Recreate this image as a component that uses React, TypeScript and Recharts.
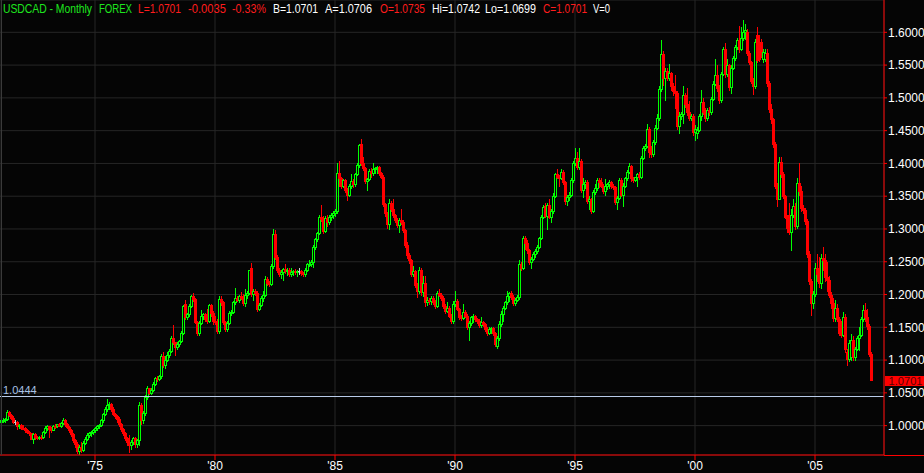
import { ComposedChart, Bar, XAxis, YAxis, CartesianGrid, ReferenceLine } from 'recharts';

// monthly USDCAD candles, first bar = Feb 1971, last = May 2007
const firstYear = 1971;
const firstMonth = 2;

const open = [
  1.006, 1.008, 1.009, 1.010, 1.021, 1.016, 1.012, 1.005, 1.005, 0.999, 1.001,
  0.997, 0.996, 0.993, 0.990, 0.988, 0.980, 0.987, 0.982, 0.981, 0.983, 0.982, 0.991,
  0.997, 0.999, 0.995, 0.994, 1.000, 0.999, 1.002, 1.000, 1.004, 1.009, 1.002, 0.998,
  0.993, 0.987, 0.978, 0.972, 0.962, 0.968, 0.963, 0.974, 0.980, 0.985, 0.988, 0.990,
  0.993, 0.996, 0.999, 1.001, 1.008, 1.018, 1.025, 1.031, 1.033, 1.026, 1.018, 1.014,
  1.010, 1.002, 0.995, 0.988, 0.981, 0.975, 0.971, 0.975, 0.981, 0.972, 0.978, 1.032,
  1.008, 1.019, 1.044, 1.057, 1.050, 1.055, 1.064, 1.072, 1.071, 1.075, 1.106, 1.093,
  1.100, 1.108, 1.114, 1.134, 1.127, 1.120, 1.124, 1.129, 1.142, 1.185, 1.166, 1.170,
  1.183, 1.198, 1.193, 1.158, 1.141, 1.157, 1.168, 1.170, 1.163, 1.160, 1.184, 1.172,
  1.160, 1.158, 1.144, 1.193, 1.188, 1.158, 1.147, 1.157, 1.172, 1.174, 1.188, 1.195,
  1.192, 1.198, 1.195, 1.187, 1.199, 1.203, 1.240, 1.201, 1.206, 1.203, 1.178, 1.184,
  1.195, 1.200, 1.224, 1.218, 1.216, 1.243, 1.292, 1.258, 1.238, 1.232, 1.234, 1.239,
  1.236, 1.238, 1.231, 1.234, 1.236, 1.234, 1.236, 1.236, 1.233, 1.231, 1.238, 1.246,
  1.247, 1.250, 1.272, 1.284, 1.294, 1.318, 1.315, 1.297, 1.316, 1.310, 1.318, 1.322,
  1.325, 1.328, 1.386, 1.378, 1.366, 1.374, 1.359, 1.352, 1.365, 1.373, 1.368, 1.384,
  1.397, 1.430, 1.400, 1.393, 1.373, 1.376, 1.389, 1.385, 1.391, 1.393, 1.394, 1.385,
  1.380, 1.338, 1.324, 1.308, 1.340, 1.330, 1.321, 1.313, 1.306, 1.313, 1.311, 1.299,
  1.276, 1.260, 1.252, 1.231, 1.236, 1.215, 1.205, 1.238, 1.204, 1.218, 1.188, 1.192,
  1.190, 1.195, 1.189, 1.183, 1.203, 1.200, 1.195, 1.183, 1.175, 1.180, 1.168, 1.159,
  1.185, 1.190, 1.178, 1.166, 1.164, 1.173, 1.168, 1.150, 1.156, 1.165, 1.167, 1.162,
  1.160, 1.153, 1.158, 1.155, 1.148, 1.142, 1.147, 1.149, 1.141, 1.121, 1.133, 1.155,
  1.171, 1.180, 1.188, 1.197, 1.202, 1.196, 1.187, 1.192, 1.196, 1.247, 1.241, 1.286,
  1.279, 1.268, 1.249, 1.254, 1.262, 1.266, 1.273, 1.286, 1.318, 1.335, 1.320, 1.336,
  1.318, 1.327, 1.351, 1.384, 1.380, 1.378, 1.387, 1.371, 1.342, 1.349, 1.352, 1.374,
  1.401, 1.408, 1.395, 1.404, 1.360, 1.368, 1.372, 1.343, 1.346, 1.328, 1.357, 1.363,
  1.374, 1.371, 1.366, 1.358, 1.366, 1.368, 1.371, 1.366, 1.364, 1.341, 1.348, 1.375,
  1.352, 1.366, 1.377, 1.387, 1.396, 1.377, 1.375, 1.379, 1.384, 1.379, 1.409, 1.423,
  1.427, 1.452, 1.418, 1.414, 1.432, 1.454, 1.469, 1.513, 1.567, 1.531, 1.541, 1.531,
  1.538, 1.518, 1.510, 1.507, 1.457, 1.472, 1.475, 1.505, 1.490, 1.478, 1.470, 1.473,
  1.448, 1.446, 1.451, 1.473, 1.494, 1.479, 1.469, 1.482, 1.478, 1.499, 1.521, 1.535,
  1.515, 1.496, 1.537, 1.575, 1.536, 1.550, 1.516, 1.546, 1.561, 1.577, 1.588, 1.575,
  1.592, 1.601, 1.600, 1.568, 1.555, 1.526, 1.518, 1.596, 1.585, 1.585, 1.560, 1.560,
  1.568, 1.522, 1.483, 1.468, 1.430, 1.366, 1.346, 1.402, 1.384, 1.350, 1.319, 1.322,
  1.296, 1.322, 1.335, 1.305, 1.370, 1.358, 1.332, 1.329, 1.312, 1.262, 1.220, 1.187,
  1.201, 1.240, 1.232, 1.218, 1.256, 1.252, 1.226, 1.222, 1.200, 1.187, 1.164, 1.180,
  1.163, 1.141, 1.139, 1.166, 1.112, 1.101, 1.105, 1.130, 1.104, 1.117, 1.134, 1.139,
  1.163, 1.176, 1.165, 1.152, 1.109,
];

const high = [
  1.010, 1.011, 1.012, 1.024, 1.022, 1.018, 1.014, 1.008, 1.007, 1.003, 1.002,
  1.001, 0.998, 0.995, 0.992, 0.989, 0.989, 0.988, 0.984, 0.984, 0.985, 0.992, 0.999,
  1.001, 1.000, 0.998, 1.001, 1.002, 1.003, 1.004, 1.005, 1.011, 1.010, 1.004, 1.000,
  0.995, 0.988, 0.980, 0.975, 0.970, 0.975, 0.976, 0.982, 0.988, 0.990, 0.992, 0.995,
  0.998, 1.001, 1.003, 1.010, 1.020, 1.028, 1.040, 1.036, 1.034, 1.028, 1.020, 1.016,
  1.013, 1.004, 0.997, 0.990, 0.983, 0.985, 0.978, 0.983, 0.982, 0.980, 1.036, 1.034,
  1.022, 1.046, 1.060, 1.058, 1.057, 1.066, 1.074, 1.076, 1.078, 1.110, 1.112, 1.106,
  1.112, 1.117, 1.136, 1.153, 1.128, 1.127, 1.131, 1.145, 1.184, 1.192, 1.172, 1.186,
  1.200, 1.203, 1.195, 1.160, 1.160, 1.176, 1.172, 1.172, 1.178, 1.186, 1.186, 1.175,
  1.168, 1.162, 1.198, 1.197, 1.190, 1.160, 1.160, 1.175, 1.176, 1.190, 1.210, 1.198,
  1.200, 1.204, 1.201, 1.208, 1.206, 1.238, 1.248, 1.208, 1.208, 1.205, 1.187, 1.197,
  1.205, 1.228, 1.226, 1.221, 1.246, 1.300, 1.298, 1.260, 1.241, 1.237, 1.241, 1.247,
  1.240, 1.240, 1.240, 1.238, 1.239, 1.238, 1.240, 1.238, 1.235, 1.240, 1.248, 1.252,
  1.252, 1.276, 1.286, 1.296, 1.322, 1.336, 1.320, 1.320, 1.322, 1.322, 1.325, 1.327,
  1.330, 1.400, 1.404, 1.380, 1.376, 1.376, 1.363, 1.368, 1.384, 1.376, 1.386, 1.400,
  1.430, 1.437, 1.410, 1.395, 1.378, 1.392, 1.393, 1.400, 1.395, 1.396, 1.396, 1.387,
  1.382, 1.340, 1.326, 1.345, 1.342, 1.345, 1.323, 1.316, 1.316, 1.331, 1.314, 1.300,
  1.280, 1.263, 1.254, 1.244, 1.238, 1.218, 1.242, 1.240, 1.228, 1.228, 1.196, 1.195,
  1.198, 1.197, 1.191, 1.205, 1.208, 1.202, 1.197, 1.185, 1.188, 1.182, 1.170, 1.190,
  1.205, 1.193, 1.180, 1.169, 1.185, 1.176, 1.170, 1.160, 1.167, 1.170, 1.169, 1.164,
  1.163, 1.165, 1.160, 1.157, 1.150, 1.150, 1.150, 1.151, 1.143, 1.136, 1.160, 1.175,
  1.182, 1.190, 1.205, 1.204, 1.206, 1.199, 1.195, 1.199, 1.252, 1.250, 1.290, 1.290,
  1.283, 1.270, 1.257, 1.265, 1.270, 1.276, 1.288, 1.322, 1.336, 1.340, 1.340, 1.345,
  1.330, 1.355, 1.386, 1.392, 1.383, 1.391, 1.390, 1.373, 1.352, 1.356, 1.377, 1.404,
  1.423, 1.418, 1.423, 1.407, 1.378, 1.375, 1.375, 1.351, 1.348, 1.360, 1.368, 1.378,
  1.378, 1.377, 1.368, 1.376, 1.370, 1.374, 1.373, 1.369, 1.366, 1.350, 1.378, 1.378,
  1.370, 1.380, 1.390, 1.400, 1.398, 1.380, 1.380, 1.386, 1.387, 1.412, 1.426, 1.430,
  1.460, 1.456, 1.426, 1.436, 1.458, 1.475, 1.518, 1.588, 1.572, 1.545, 1.546, 1.552,
  1.540, 1.522, 1.535, 1.510, 1.478, 1.478, 1.518, 1.508, 1.515, 1.495, 1.476, 1.476,
  1.458, 1.456, 1.476, 1.512, 1.500, 1.484, 1.485, 1.486, 1.502, 1.525, 1.560, 1.550,
  1.520, 1.540, 1.578, 1.583, 1.560, 1.552, 1.550, 1.564, 1.580, 1.592, 1.610, 1.608,
  1.619, 1.612, 1.605, 1.572, 1.557, 1.530, 1.590, 1.608, 1.596, 1.590, 1.575, 1.574,
  1.575, 1.525, 1.490, 1.470, 1.432, 1.370, 1.410, 1.410, 1.387, 1.352, 1.322, 1.340,
  1.330, 1.345, 1.340, 1.378, 1.401, 1.365, 1.336, 1.332, 1.315, 1.266, 1.224, 1.205,
  1.248, 1.262, 1.258, 1.262, 1.273, 1.262, 1.250, 1.228, 1.204, 1.195, 1.192, 1.186,
  1.166, 1.160, 1.174, 1.170, 1.117, 1.130, 1.140, 1.136, 1.120, 1.137, 1.150, 1.166,
  1.184, 1.187, 1.178, 1.155, 1.112,
];

const low = [
  1.004, 1.006, 1.006, 1.008, 1.014, 1.010, 1.004, 1.003, 0.995, 0.996, 0.995,
  0.995, 0.991, 0.988, 0.986, 0.979, 0.973, 0.980, 0.979, 0.979, 0.980, 0.981, 0.989,
  0.994, 0.983, 0.991, 0.993, 0.997, 0.998, 0.999, 0.998, 1.002, 1.000, 0.996, 0.990,
  0.984, 0.975, 0.968, 0.958, 0.957, 0.960, 0.962, 0.972, 0.978, 0.982, 0.984, 0.987,
  0.990, 0.993, 0.996, 0.999, 1.006, 1.016, 1.023, 1.026, 1.022, 1.016, 1.012, 1.006,
  1.000, 0.992, 0.985, 0.978, 0.970, 0.960, 0.965, 0.972, 0.968, 0.967, 0.970, 1.003,
  1.004, 1.016, 1.041, 1.048, 1.048, 1.053, 1.062, 1.068, 1.069, 1.073, 1.090, 1.088,
  1.098, 1.105, 1.112, 1.124, 1.108, 1.117, 1.121, 1.127, 1.140, 1.162, 1.163, 1.168,
  1.181, 1.190, 1.156, 1.138, 1.139, 1.155, 1.163, 1.160, 1.157, 1.158, 1.168, 1.155,
  1.155, 1.141, 1.142, 1.184, 1.155, 1.144, 1.145, 1.155, 1.169, 1.172, 1.186, 1.190,
  1.188, 1.193, 1.184, 1.182, 1.195, 1.201, 1.198, 1.192, 1.200, 1.175, 1.176, 1.182,
  1.190, 1.198, 1.215, 1.213, 1.214, 1.240, 1.254, 1.234, 1.228, 1.225, 1.222, 1.233,
  1.230, 1.228, 1.228, 1.230, 1.232, 1.229, 1.232, 1.230, 1.228, 1.229, 1.236, 1.244,
  1.243, 1.242, 1.270, 1.282, 1.292, 1.312, 1.294, 1.295, 1.305, 1.307, 1.314, 1.316,
  1.320, 1.325, 1.365, 1.363, 1.364, 1.357, 1.344, 1.350, 1.363, 1.364, 1.366, 1.382,
  1.395, 1.398, 1.390, 1.370, 1.360, 1.374, 1.380, 1.383, 1.386, 1.386, 1.382, 1.378,
  1.335, 1.320, 1.302, 1.300, 1.327, 1.318, 1.310, 1.303, 1.295, 1.308, 1.296, 1.273,
  1.256, 1.248, 1.229, 1.229, 1.212, 1.196, 1.203, 1.200, 1.197, 1.183, 1.184, 1.186,
  1.186, 1.186, 1.180, 1.181, 1.197, 1.192, 1.180, 1.172, 1.173, 1.165, 1.156, 1.157,
  1.182, 1.176, 1.163, 1.161, 1.162, 1.166, 1.147, 1.131, 1.153, 1.158, 1.160, 1.156,
  1.150, 1.151, 1.152, 1.145, 1.139, 1.140, 1.142, 1.139, 1.122, 1.118, 1.130, 1.152,
  1.160, 1.178, 1.186, 1.190, 1.193, 1.184, 1.184, 1.190, 1.193, 1.238, 1.239, 1.270,
  1.264, 1.246, 1.240, 1.252, 1.258, 1.264, 1.271, 1.284, 1.316, 1.318, 1.300, 1.316,
  1.310, 1.325, 1.349, 1.378, 1.366, 1.376, 1.368, 1.338, 1.336, 1.344, 1.350, 1.372,
  1.398, 1.392, 1.392, 1.356, 1.349, 1.362, 1.340, 1.330, 1.325, 1.326, 1.354, 1.360,
  1.364, 1.364, 1.355, 1.352, 1.361, 1.362, 1.362, 1.361, 1.338, 1.331, 1.345, 1.350,
  1.335, 1.364, 1.375, 1.385, 1.373, 1.372, 1.373, 1.366, 1.376, 1.377, 1.406, 1.420,
  1.425, 1.410, 1.410, 1.412, 1.430, 1.452, 1.466, 1.510, 1.520, 1.497, 1.528, 1.528,
  1.512, 1.505, 1.485, 1.452, 1.446, 1.468, 1.462, 1.486, 1.474, 1.466, 1.466, 1.444,
  1.436, 1.439, 1.449, 1.466, 1.476, 1.464, 1.466, 1.474, 1.476, 1.497, 1.519, 1.510,
  1.492, 1.494, 1.535, 1.532, 1.533, 1.512, 1.508, 1.544, 1.558, 1.575, 1.570, 1.573,
  1.588, 1.590, 1.566, 1.552, 1.522, 1.506, 1.515, 1.555, 1.556, 1.562, 1.555, 1.556,
  1.518, 1.478, 1.462, 1.425, 1.362, 1.335, 1.345, 1.380, 1.347, 1.316, 1.295, 1.292,
  1.268, 1.318, 1.300, 1.302, 1.352, 1.328, 1.325, 1.308, 1.258, 1.216, 1.169, 1.180,
  1.198, 1.220, 1.212, 1.210, 1.238, 1.220, 1.205, 1.196, 1.180, 1.160, 1.160, 1.160,
  1.138, 1.135, 1.136, 1.113, 1.092, 1.098, 1.100, 1.100, 1.100, 1.115, 1.116, 1.136,
  1.160, 1.160, 1.148, 1.106, 1.069,
];

const close = [
  1.008, 1.009, 1.010, 1.021, 1.016, 1.012, 1.006, 1.005, 0.999, 1.001, 0.997,
  0.996, 0.993, 0.990, 0.988, 0.980, 0.987, 0.982, 0.981, 0.983, 0.982, 0.991, 0.997,
  0.999, 0.995, 0.994, 1.000, 0.999, 1.002, 1.000, 1.004, 1.009, 1.002, 0.998, 0.993,
  0.987, 0.978, 0.972, 0.962, 0.968, 0.963, 0.974, 0.980, 0.985, 0.988, 0.990, 0.993,
  0.996, 0.999, 1.001, 1.008, 1.018, 1.025, 1.031, 1.033, 1.026, 1.018, 1.014, 1.010,
  1.002, 0.995, 0.988, 0.981, 0.975, 0.971, 0.975, 0.981, 0.972, 0.978, 1.032, 1.008,
  1.019, 1.044, 1.057, 1.050, 1.055, 1.064, 1.072, 1.071, 1.075, 1.106, 1.093, 1.100,
  1.108, 1.114, 1.134, 1.127, 1.120, 1.124, 1.129, 1.142, 1.183, 1.166, 1.170, 1.183,
  1.198, 1.193, 1.158, 1.141, 1.157, 1.168, 1.170, 1.163, 1.160, 1.184, 1.172, 1.160,
  1.158, 1.144, 1.193, 1.188, 1.158, 1.147, 1.157, 1.172, 1.174, 1.188, 1.195, 1.192,
  1.198, 1.195, 1.187, 1.199, 1.203, 1.238, 1.201, 1.206, 1.203, 1.178, 1.184, 1.195,
  1.200, 1.224, 1.218, 1.216, 1.243, 1.292, 1.258, 1.238, 1.232, 1.234, 1.239, 1.236,
  1.238, 1.231, 1.234, 1.236, 1.234, 1.236, 1.236, 1.233, 1.231, 1.238, 1.246, 1.247,
  1.250, 1.272, 1.284, 1.294, 1.318, 1.315, 1.297, 1.316, 1.310, 1.318, 1.322, 1.325,
  1.328, 1.386, 1.378, 1.366, 1.374, 1.359, 1.352, 1.365, 1.373, 1.368, 1.384, 1.397,
  1.428, 1.400, 1.393, 1.373, 1.376, 1.389, 1.385, 1.391, 1.393, 1.394, 1.385, 1.380,
  1.338, 1.324, 1.308, 1.340, 1.330, 1.321, 1.313, 1.306, 1.313, 1.311, 1.299, 1.276,
  1.260, 1.252, 1.231, 1.236, 1.215, 1.205, 1.238, 1.204, 1.218, 1.188, 1.192, 1.190,
  1.195, 1.189, 1.183, 1.203, 1.200, 1.195, 1.183, 1.175, 1.180, 1.168, 1.159, 1.185,
  1.190, 1.178, 1.166, 1.164, 1.173, 1.168, 1.150, 1.156, 1.165, 1.167, 1.162, 1.160,
  1.153, 1.158, 1.155, 1.148, 1.142, 1.147, 1.149, 1.141, 1.124, 1.133, 1.155, 1.171,
  1.180, 1.188, 1.197, 1.202, 1.196, 1.187, 1.192, 1.196, 1.247, 1.241, 1.286, 1.279,
  1.268, 1.249, 1.254, 1.262, 1.266, 1.273, 1.286, 1.318, 1.333, 1.320, 1.336, 1.318,
  1.327, 1.351, 1.384, 1.380, 1.378, 1.387, 1.371, 1.342, 1.349, 1.352, 1.374, 1.401,
  1.408, 1.395, 1.404, 1.360, 1.368, 1.372, 1.343, 1.346, 1.328, 1.357, 1.363, 1.374,
  1.371, 1.366, 1.358, 1.366, 1.368, 1.371, 1.366, 1.364, 1.341, 1.348, 1.375, 1.352,
  1.366, 1.377, 1.387, 1.396, 1.377, 1.375, 1.379, 1.384, 1.379, 1.409, 1.423, 1.427,
  1.452, 1.418, 1.414, 1.432, 1.454, 1.469, 1.513, 1.567, 1.531, 1.541, 1.531, 1.538,
  1.518, 1.510, 1.507, 1.457, 1.472, 1.475, 1.505, 1.490, 1.478, 1.470, 1.473, 1.448,
  1.452, 1.451, 1.473, 1.494, 1.479, 1.469, 1.482, 1.478, 1.499, 1.521, 1.535, 1.515,
  1.496, 1.537, 1.575, 1.536, 1.550, 1.516, 1.546, 1.561, 1.577, 1.588, 1.575, 1.592,
  1.601, 1.604, 1.568, 1.555, 1.526, 1.518, 1.585, 1.558, 1.560, 1.566, 1.570, 1.568,
  1.522, 1.483, 1.468, 1.430, 1.366, 1.346, 1.402, 1.384, 1.350, 1.319, 1.302, 1.296,
  1.322, 1.335, 1.305, 1.370, 1.358, 1.332, 1.329, 1.312, 1.262, 1.220, 1.187, 1.201,
  1.240, 1.232, 1.218, 1.256, 1.252, 1.226, 1.222, 1.200, 1.187, 1.164, 1.180, 1.163,
  1.141, 1.139, 1.166, 1.117, 1.101, 1.126, 1.130, 1.104, 1.117, 1.134, 1.139, 1.163,
  1.176, 1.165, 1.152, 1.109, 1.0701,
];

const emptyMonthsAfter = 6;
const yearTicks = ['1975-01', '1980-01', '1985-01', '1990-01', '1995-01', '2000-01', '2005-01'];
const priceTicks = [1.0, 1.05, 1.1, 1.15, 1.2, 1.25, 1.3, 1.35, 1.4, 1.45, 1.5, 1.55, 1.6];
const lastPrice = 1.0701;
const markerPrice = 1.0444;

const headerText = ['USDCAD - Monthly', 'FOREX', 'L=1.0701', '-0.0035', '-0.33%', 'B=1.0701', 'A=1.0706', 'O=1.0735', 'Hi=1.0742', 'Lo=1.0699', 'C=1.0701', 'V=0'];
const headerTone = ['name', 'name', 'down', 'down', 'down', 'plain', 'plain', 'down', 'plain', 'plain', 'down', 'plain'];

// layout of header pieces (x, width) measured from the screen
const headerX = [3, 99, 138, 188, 232, 273, 325, 380, 432, 485, 543, 593];
const headerW = [89, 33, 43, 38, 34, 45, 47, 45, 48, 51, 44, 17];
const toneColor: Record<string, string> = { name: '#1ee61e', down: '#ff1c1c', plain: '#ffffff' };

const W = 924;
const H = 473;
const BG = '#050505';
const GREEN = '#00ff00';
const RED = '#ff0000';

const monthKey = (i: number) => {
  const n = firstMonth - 1 + i;
  const y = firstYear + Math.floor(n / 12);
  const m = (n % 12) + 1;
  return `${y}-${String(m).padStart(2, '0')}`;
};

const data = [...Array(close.length + emptyMonthsAfter)].map((_, i) =>
  i < close.length
    ? { month: monthKey(i), open: open[i], high: high[i], low: low[i], close: close[i], range: [low[i], high[i]] }
    : { month: monthKey(i), range: null }
);

function Candle(props: any) {
  const { x, y, width, height, payload } = props;
  if (!payload || payload.high == null || height == null) return <g />;
  const { open: o, high: h, low: l, close: c } = payload;
  const top = Math.min(y, y + height);
  const span = Math.abs(height);
  const py = (v: number) => top + ((h - v) / (h - l || 1)) * span;
  const cx = Math.round(x + width / 2);
  const up = c > o;
  const flat = c === o;
  const color = flat ? '#c8c8c8' : up ? GREEN : RED;
  const yHi = Math.round(py(h));
  const yLo = Math.round(py(l));
  const bTop = Math.round(py(Math.max(o, c)));
  const bBot = Math.round(py(Math.min(o, c)));
  if (flat) {
    return (
      <g shapeRendering="crispEdges">
        <line x1={cx + 0.5} x2={cx + 0.5} y1={yHi} y2={yLo + 1} stroke={color} />
        <line x1={cx - 1} x2={cx + 2} y1={bTop + 0.5} y2={bTop + 0.5} stroke={color} />
      </g>
    );
  }
  if (up) {
    return (
      <g shapeRendering="crispEdges">
        <line x1={cx + 0.5} x2={cx + 0.5} y1={yHi} y2={bTop} stroke={color} />
        <line x1={cx + 0.5} x2={cx + 0.5} y1={bBot} y2={yLo + 1} stroke={color} />
        <rect x={cx - 0.5} y={bTop + 0.5} width={2} height={Math.max(bBot - bTop, 1)} fill="none" stroke={color} />
      </g>
    );
  }
  return (
    <g shapeRendering="crispEdges">
      <line x1={cx + 0.5} x2={cx + 0.5} y1={yHi} y2={yLo + 1} stroke={color} />
      <rect x={cx - 1} y={bTop} width={3} height={Math.max(bBot - bTop + 1, 2)} fill={color} />
    </g>
  );
}

const MarkerLabel = (props: any) => {
  const { x, y } = props.viewBox;
  return (
    <text x={x + 3} y={y - 3} fill="#a9c2e6" fontSize={11}>
      {markerPrice.toFixed(4)}
    </text>
  );
};

const PriceBox = (props: any) => {
  const { x, y, width } = props.viewBox;
  const left = x + width + 1;
  const top = Math.round(y) - 4;
  return (
    <g>
      <rect x={left} y={top} width={W - left} height={10} fill={RED} />
      <text x={left + 3.5} y={top + 8.5} fill="#5a0000" fontSize={10.5} textLength={34} lengthAdjust="spacingAndGlyphs">
        {lastPrice.toFixed(4)}
      </text>
    </g>
  );
};

export default function App() {
  return (
    <div
      style={{
        position: 'absolute',
        left: 0,
        top: 0,
        width: W,
        height: H,
        background: BG,
        fontFamily: 'Arial, "Liberation Sans", Helvetica, sans-serif',
        overflow: 'hidden',
      }}
    >
      <ComposedChart width={W} height={H} data={data} margin={{ top: 0, right: 0, bottom: 0, left: 0 }} barCategoryGap={0}>
        <CartesianGrid stroke="#262626" />
        <XAxis
          dataKey="month"
          ticks={yearTicks}
          interval={0}
          height={18}
          tickSize={5}
          tickMargin={1}
          axisLine={{ stroke: RED }}
          tickLine={{ stroke: RED }}
          tick={{ fill: '#ffffff', fontSize: 12 }}
          tickFormatter={(v: string) => `'${v.slice(2, 4)}`}
        />
        <YAxis
          orientation="right"
          type="number"
          domain={[0.9552, 1.6493]}
          allowDataOverflow
          ticks={priceTicks}
          interval={0}
          width={40}
          tickSize={3}
          tickMargin={1}
          axisLine={{ stroke: RED }}
          tickLine={{ stroke: RED }}
          tick={{ fill: '#ffffff', fontSize: 12 }}
          tickFormatter={(v: number) => v.toFixed(4)}
        />
        <ReferenceLine y={markerPrice} stroke="#bccfec" label={MarkerLabel} />
        <Bar dataKey="range" shape={Candle} isAnimationActive={false} />
        <ReferenceLine y={lastPrice} stroke="none" label={PriceBox} ifOverflow="visible" />
      </ComposedChart>
      <svg width={W} height={H} style={{ position: 'absolute', left: 0, top: 0, pointerEvents: 'none' }}>
        <line x1={1.5} x2={1.5} y1={0} y2={455} stroke="#3a3a3a" />
        <line x1={884} x2={W} y1={455.5} y2={455.5} stroke={RED} />
        {headerText.map((t, i) => (
          <text
            key={t + i}
            transform={`translate(${headerX[i]}, 13) scale(1, 1.18)`}
            fontSize={11}
            fill={toneColor[headerTone[i]]}
            textLength={headerW[i]}
            lengthAdjust="spacingAndGlyphs"
          >
            {t}
          </text>
        ))}
      </svg>
    </div>
  );
}
